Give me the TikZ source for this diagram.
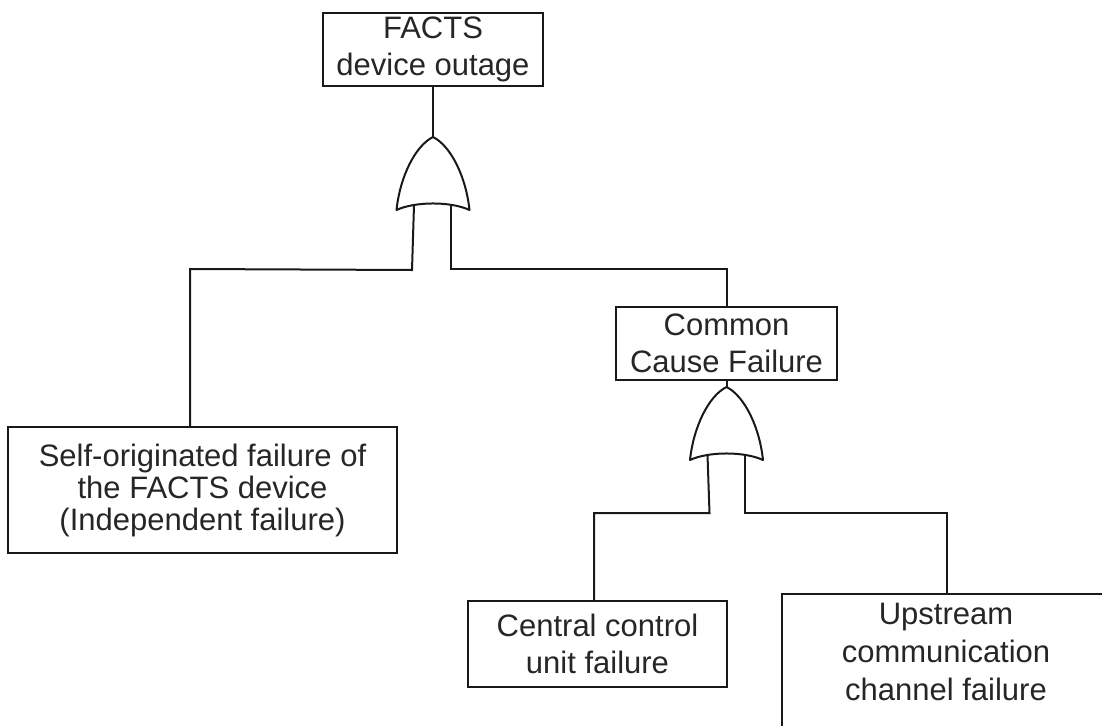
\documentclass[tikz,border=0pt]{standalone}
\usepackage{fontspec}
\setmainfont{Liberation Sans}
\begin{document}
\begin{tikzpicture}[x=1pt,y=1pt,
  box/.style={draw=black!90, line width=2pt, align=center, inner sep=0pt,
    text=black!85, font=\fontsize{31}{37}\selectfont},
  conn/.style={draw=black!90, line width=2pt},
  gateline/.style={draw=black!90, line width=2pt, line join=round},
  orgate/.pic={
    \draw[gateline] (0,0) .. controls (-18,-9) and (-33,-40) .. (-36.5,-73)
      .. controls (-18,-64.3) and (18,-64.3) .. (36.5,-73)
      .. controls (33,-40) and (18,-9) .. (0,0) -- cycle;
    \coordinate (-apex) at (0,0);
    \coordinate (-inl) at (-19,-68);
    \coordinate (-inr) at (18,-68);
  }]
\useasboundingbox (0,0) rectangle (1102,-725);

% boxes
\node[box, minimum width=220, minimum height=73] (top) at (433,-49.5) {FACTS\\device outage};
\node[box, minimum width=221, minimum height=73] (ccf) at (726.5,-343.5) {Common\\Cause Failure};
\node[box, minimum width=389, minimum height=126, font=\fontsize{31}{32}\selectfont] (self) at (202.5,-490)
  {Self-originated failure of\\the FACTS device\\(Independent failure)};
\node[box, minimum width=259, minimum height=86] (ccu) at (597.5,-644) {Central control\\unit failure};
\node[box, minimum width=330, minimum height=220, anchor=north] (ucf) at (947,-593) {};
\node[align=center, inner sep=0pt, text=black!85, font=\fontsize{31}{38}\selectfont] (ucft) at (946,-651.5)
  {Upstream\\communication\\channel failure};

% gates
\pic (g1) at (433,-137) {orgate};
\pic (g2) at (726.5,-387) {orgate};

% junction points
\coordinate (j1) at (190,-269);
\coordinate (j2) at (726.5,-269);
\coordinate (j3) at (594,-513);
\coordinate (j4) at (947,-513);

% connectors
\draw[conn] (top) -- (g1-apex);
\draw[conn] (g1-inl) -- ++(-2,-65) -- (j1) -- (j1 |- self.north);
\draw[conn] (g1-inr) -- (g1-inr |- j2) -- (j2) -- (ccf.north);
\draw[conn] (ccf) -- (g2-apex);
\draw[conn] (g2-inl) -- ++(2,-58) -- (j3) -- (j3 |- ccu.north);
\draw[conn] (g2-inr) -- (g2-inr |- j4) -- (j4) -- (ucf.north);
\end{tikzpicture}
\end{document}
